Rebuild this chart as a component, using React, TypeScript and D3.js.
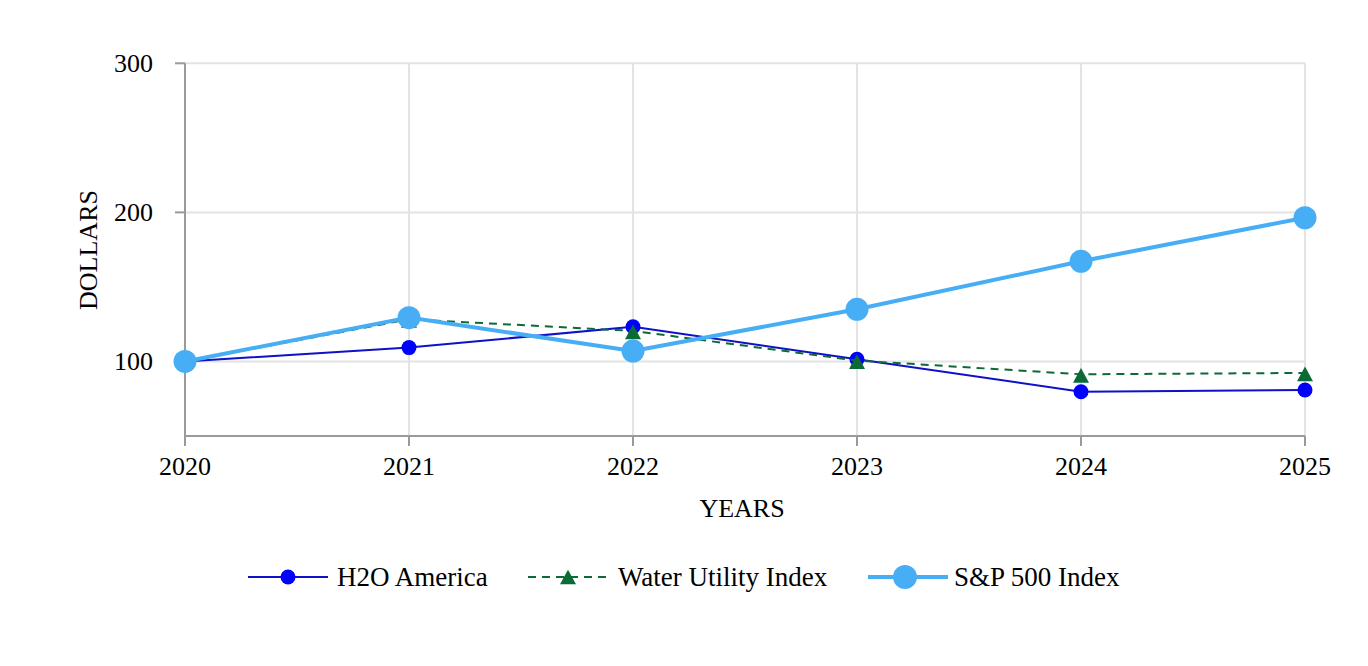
import React from "react";
import * as d3 from "d3";

const years = [2020, 2021, 2022, 2023, 2024, 2025];
const h2oAmerica = [100, 109.3, 123.3, 101.5, 79.7, 80.9];
const waterUtility = [100, 128.3, 120.5, 100.6, 91.4, 92.3];
const sp500 = [100, 129.4, 107, 135, 167.2, 196.4];
const yTicks = [100, 200, 300];

const W = 1368;
const H = 666;
const FONT = "'Liberation Serif', 'Times New Roman', serif";

export default function App() {
  const x = d3.scaleLinear().domain([2020, 2025]).range([185, 1305]);
  const y = d3.scaleLinear().domain([50, 300]).range([436, 63.3]);
  const line = (vals: number[]) =>
    d3.line<number>().x((_, i) => x(years[i])).y((v) => y(v))(vals) || "";

  const blue = "#0000FF";
  const blueLine = "#1010C8";
  const green = "#0B6B36";
  const light = "#47AEF5";
  const axisCol = "#9a9a9a";
  const gridCol = "#e3e3e3";

  const tri = (cx: number, cy: number, s: number) => {
    const h = s * 0.92;
    const c = cy + 1;
    return `M${cx},${c - h / 2}L${cx + s / 2},${c + h / 2}L${cx - s / 2},${c + h / 2}Z`;
  };

  const legendY = 577;

  return (
    <svg
      width={W}
      height={H}
      style={{ position: "absolute", left: 0, top: 0, background: "#fff" }}
      fontFamily={FONT}
    >
      <rect width={W} height={H} fill="#fff" />
      {/* grid */}
      {yTicks.map((t) => (
        <line key={"gy" + t} x1={x(2020)} x2={x(2025)} y1={y(t)} y2={y(t)} stroke={gridCol} strokeWidth={2} />
      ))}
      {years.slice(1).map((yr) => (
        <line key={"gx" + yr} x1={x(yr)} x2={x(yr)} y1={y(300)} y2={y(50)} stroke={gridCol} strokeWidth={2} />
      ))}
      {/* axes */}
      <line x1={x(2020)} x2={x(2020)} y1={y(300)} y2={y(50) + 10} stroke={axisCol} strokeWidth={2} />
      <line x1={x(2020)} x2={x(2025)} y1={y(50)} y2={y(50)} stroke={axisCol} strokeWidth={2} />
      {yTicks.map((t) => (
        <g key={"yt" + t}>
          <line x1={x(2020) - 10} x2={x(2020)} y1={y(t)} y2={y(t)} stroke={axisCol} strokeWidth={2} />
          <text x={153} y={y(t)} dy="0.34em" textAnchor="end" fontSize={26} fill="#000">
            {t}
          </text>
        </g>
      ))}
      {years.map((yr) => (
        <g key={"xt" + yr}>
          <line x1={x(yr)} x2={x(yr)} y1={y(50)} y2={y(50) + 10} stroke={axisCol} strokeWidth={2} />
          <text x={x(yr)} y={475} textAnchor="middle" fontSize={26} fill="#000">
            {yr}
          </text>
        </g>
      ))}
      <text x={742} y={517} textAnchor="middle" fontSize={26} fill="#000">
        YEARS
      </text>
      <text
        transform={`translate(97,250) rotate(-90)`}
        textAnchor="middle"
        fontSize={26}
        fill="#000"
      >
        DOLLARS
      </text>

      {/* H2O America */}
      <path d={line(h2oAmerica)} fill="none" stroke={blueLine} strokeWidth={2} />
      {h2oAmerica.map((v, i) => (
        <circle key={"h" + i} cx={x(years[i])} cy={y(v)} r={7.5} fill={blue} />
      ))}
      {/* Water Utility */}
      <path d={line(waterUtility)} fill="none" stroke={green} strokeWidth={2} strokeDasharray="8,6" />
      {waterUtility.map((v, i) => (
        <path key={"w" + i} d={tri(x(years[i]), y(v), 16)} fill={green} />
      ))}
      {/* S&P 500 */}
      <path d={line(sp500)} fill="none" stroke={light} strokeWidth={4} />
      {sp500.map((v, i) => (
        <circle key={"s" + i} cx={x(years[i])} cy={y(v)} r={11.5} fill={light} />
      ))}

      {/* legend */}
      <line x1={248} x2={328} y1={legendY} y2={legendY} stroke={blueLine} strokeWidth={2} />
      <circle cx={288} cy={legendY} r={7.5} fill={blue} />
      <text x={337} y={legendY} dy="0.33em" fontSize={27} fill="#000">H2O America</text>

      <line x1={528} x2={608} y1={legendY} y2={legendY} stroke={green} strokeWidth={2} strokeDasharray="8,6" />
      <path d={tri(568, legendY - 1, 16)} fill={green} />
      <text x={618} y={legendY} dy="0.33em" fontSize={27} fill="#000">Water Utility Index</text>

      <line x1={868} x2={948} y1={legendY} y2={legendY} stroke={light} strokeWidth={4} />
      <circle cx={905} cy={legendY} r={12} fill={light} />
      <text x={954} y={legendY} dy="0.33em" fontSize={27} fill="#000">S&amp;P 500 Index</text>
    </svg>
  );
}
